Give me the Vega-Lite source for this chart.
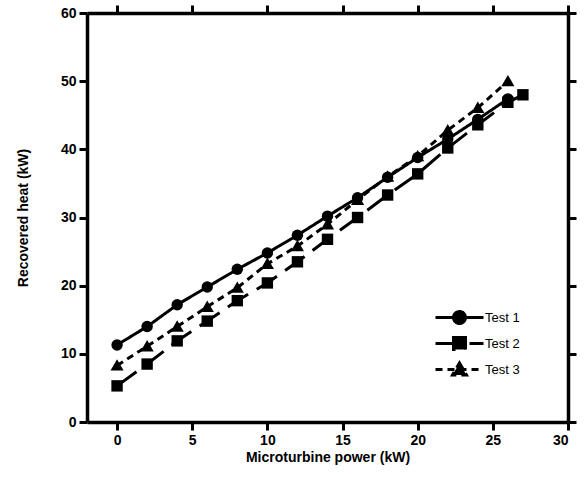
{
  "$schema": "https://vega.github.io/schema/vega-lite/v6.json",
  "width": 481,
  "height": 409,
  "autosize": "none",
  "padding": {"left": 87, "top": 13, "right": 20, "bottom": 56},
  "background": "white",
  "config": {
    "font": "Liberation Sans",
    "view": {"stroke": null},
    "axis": {
      "domain": true,
      "domainColor": "black",
      "domainWidth": 3.5,
      "grid": false,
      "ticks": true,
      "tickColor": "black",
      "tickOpacity": 1,
      "tickWidth": 3,
      "tickSize": 8,
      "zindex": 1,
      "labelFont": "Liberation Sans",
      "labelFontWeight": "bold",
      "labelFontSize": 14,
      "labelColor": "black",
      "titleFont": "Liberation Sans",
      "titleFontWeight": "bold",
      "titleFontSize": 14,
      "titleColor": "black"
    }
  },
  "data": {
    "values": [
      {"x": 0, "y": 11.3, "test": "Test 1"},
      {"x": 2, "y": 14.0, "test": "Test 1"},
      {"x": 4, "y": 17.2, "test": "Test 1"},
      {"x": 6, "y": 19.8, "test": "Test 1"},
      {"x": 8, "y": 22.4, "test": "Test 1"},
      {"x": 10, "y": 24.8, "test": "Test 1"},
      {"x": 12, "y": 27.4, "test": "Test 1"},
      {"x": 14, "y": 30.2, "test": "Test 1"},
      {"x": 16, "y": 32.9, "test": "Test 1"},
      {"x": 18, "y": 35.9, "test": "Test 1"},
      {"x": 20, "y": 38.8, "test": "Test 1"},
      {"x": 22, "y": 41.5, "test": "Test 1"},
      {"x": 24, "y": 44.4, "test": "Test 1"},
      {"x": 26, "y": 47.4, "test": "Test 1"},
      {"x": 0, "y": 5.3, "test": "Test 2"},
      {"x": 2, "y": 8.5, "test": "Test 2"},
      {"x": 4, "y": 11.9, "test": "Test 2"},
      {"x": 6, "y": 14.8, "test": "Test 2"},
      {"x": 8, "y": 17.8, "test": "Test 2"},
      {"x": 10, "y": 20.4, "test": "Test 2"},
      {"x": 12, "y": 23.5, "test": "Test 2"},
      {"x": 14, "y": 26.8, "test": "Test 2"},
      {"x": 16, "y": 30.0, "test": "Test 2"},
      {"x": 18, "y": 33.3, "test": "Test 2"},
      {"x": 20, "y": 36.4, "test": "Test 2"},
      {"x": 22, "y": 40.2, "test": "Test 2"},
      {"x": 24, "y": 43.6, "test": "Test 2"},
      {"x": 26, "y": 46.9, "test": "Test 2"},
      {"x": 27, "y": 48.0, "test": "Test 2"},
      {"x": 0, "y": 8.3, "test": "Test 3"},
      {"x": 2, "y": 11.1, "test": "Test 3"},
      {"x": 4, "y": 14.0, "test": "Test 3"},
      {"x": 6, "y": 16.9, "test": "Test 3"},
      {"x": 8, "y": 19.7, "test": "Test 3"},
      {"x": 10, "y": 23.2, "test": "Test 3"},
      {"x": 12, "y": 25.8, "test": "Test 3"},
      {"x": 14, "y": 29.0, "test": "Test 3"},
      {"x": 16, "y": 32.6, "test": "Test 3"},
      {"x": 18, "y": 36.0, "test": "Test 3"},
      {"x": 20, "y": 39.0, "test": "Test 3"},
      {"x": 22, "y": 42.8, "test": "Test 3"},
      {"x": 24, "y": 46.1, "test": "Test 3"},
      {"x": 26, "y": 50.0, "test": "Test 3"}
    ]
  },
  "layer": [
    {
      "mark": {"type": "line", "color": "black", "strokeWidth": 3},
      "encoding": {
        "x": {"field": "x", "type": "quantitative",
          "scale": {"domain": [-2, 30], "nice": false, "zero": false},
          "axis": null},
        "y": {"field": "y", "type": "quantitative",
          "scale": {"domain": [0, 60], "nice": false},
          "axis": null},
        "strokeDash": {"field": "test", "type": "nominal",
          "scale": {"domain": ["Test 1", "Test 2", "Test 3"], "range": [[1, 0], [24, 10], [7, 5]]},
          "legend": {
            "title": null,
            "orient": "none",
            "legendX": 359,
            "legendY": 291,
            "padding": 0,
            "symbolSize": 576,
            "symbolStrokeWidth": 3,
            "symbolStrokeColor": "black",
            "symbolFillColor": "black",
            "labelFont": "Liberation Sans",
            "labelFontSize": 13,
            "labelColor": "black",
            "labelOffset": 12,
            "rowPadding": 0
          }
        }
      }
    },
    {
      "transform": [{"filter": "datum.x < -100"}],
      "mark": {"type": "point", "filled": true, "color": "black", "opacity": 1},
      "encoding": {
        "x": {"field": "x", "type": "quantitative", "axis": null},
        "y": {"field": "y", "type": "quantitative", "axis": null},
        "shape": {"field": "test", "type": "nominal",
          "scale": {"domain": ["Test 1", "Test 2", "Test 3"], "range": [
            "M-2,0L2,0M0.5,0A0.5,0.5,0,1,1,-0.5,0A0.5,0.5,0,1,1,0.5,0Z",
            "M-2,0L2,0M-0.5,-0.5L0.5,-0.5L0.5,0.5L-0.5,0.5Z",
            "M-2,0L2,0M0,-0.55L0.58,0.45L-0.58,0.45Z"]},
          "legend": null
        }
      }
    },
    {
      "transform": [{"filter": "datum.test === 'Test 1'"}],
      "mark": {"type": "point", "filled": true, "color": "black", "opacity": 1, "shape": "circle", "size": 130},
      "encoding": {
        "x": {"field": "x", "type": "quantitative",
          "axis": {"orient": "bottom", "values": [0, 5, 10, 15, 20, 25, 30], "title": "Microturbine power (kW)", "labelPadding": 3, "titlePadding": 3}},
        "y": {"field": "y", "type": "quantitative",
          "axis": {"orient": "left", "values": [0, 10, 20, 30, 40, 50, 60], "title": "Recovered heat (kW)", "labelPadding": 3, "titlePadding": 30}}
      }
    },
    {
      "transform": [{"filter": "datum.test === 'Test 2'"}],
      "mark": {"type": "point", "filled": true, "color": "black", "opacity": 1, "shape": "square", "size": 130},
      "encoding": {
        "x": {"field": "x", "type": "quantitative",
          "axis": {"orient": "top", "values": [0, 5, 10, 15, 20, 25, 30], "labels": false, "title": null}},
        "y": {"field": "y", "type": "quantitative",
          "axis": {"orient": "right", "values": [0, 10, 20, 30, 40, 50, 60], "labels": false, "title": null}}
      }
    },
    {
      "transform": [{"filter": "datum.test === 'Test 3'"}],
      "mark": {"type": "point", "filled": true, "color": "black", "opacity": 1, "shape": "M0,-1.1L1.15,0.9L-1.15,0.9Z", "size": 130},
      "encoding": {
        "x": {"field": "x", "type": "quantitative", "axis": null},
        "y": {"field": "y", "type": "quantitative", "axis": null}
      }
    }
  ],
  "resolve": {"axis": {"x": "independent", "y": "independent"}}
}
